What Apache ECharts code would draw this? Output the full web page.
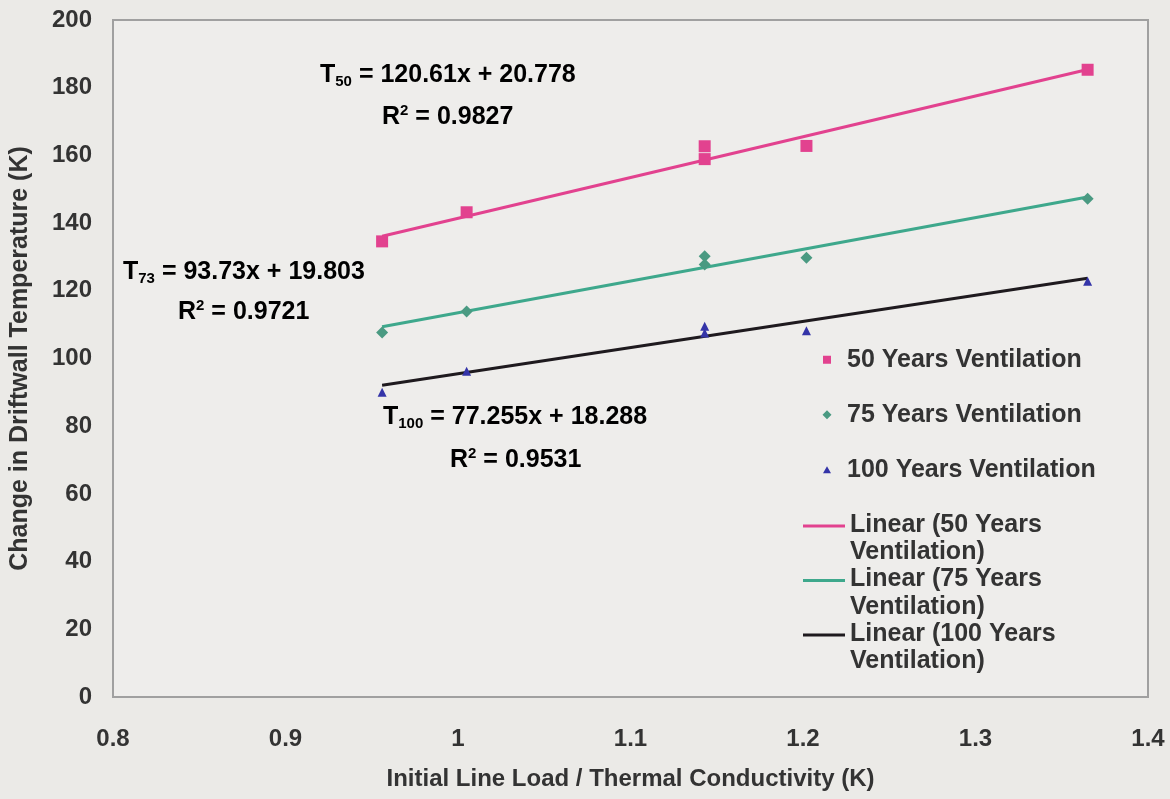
<!DOCTYPE html>
<html>
<head>
<meta charset="utf-8">
<script src="https://cdn.jsdelivr.net/npm/echarts@6/dist/echarts.min.js"></script>
<style>
html,body{margin:0;padding:0;background:#ebeae7;}
#c{width:1170px;height:799px;}
</style>
</head>
<body>
<div id="c"></div>
<script>
// ---- data ----
const xValues = [0.956, 1.005, 1.143, 1.143, 1.202, 1.365];
const years50 = [134.6, 143.2, 162.7, 158.9, 162.8, 185.3];
const years75 = [107.7, 113.9, 130.2, 127.8, 129.8, 147.2];
const years100 = [90.0, 96.2, 109.5, 107.5, 108.2, 122.8];
const trendX = [0.956, 1.365];
const trend50 = [136.1, 185.4];
const trend75 = [109.4, 147.7];
const trend100 = [92.1, 123.7];
const xTicks = [0.8, 0.9, 1.0, 1.1, 1.2, 1.3, 1.4];
const yTicks = [0, 20, 40, 60, 80, 100, 120, 140, 160, 180, 200];
const scatterNames = ['50 Years Ventilation', '75 Years Ventilation', '100 Years Ventilation'];
const lineNames = ['Linear (50 Years Ventilation)', 'Linear (75 Years Ventilation)', 'Linear (100 Years Ventilation)'];

const pink = '#e2428f', teal = '#3ea88c', dark = '#1e1a1e', blue = '#3434a8', tealMk = '#4a9a82';
const pair = (xs, ys) => xs.map((x, i) => [x, ys[i]]);

const chart = echarts.init(document.getElementById('c'));
// legend icons: visible glyph plus zero-area anchor points that fix the icon box
const pad = ' M0,5 L0.01,5 L0,5.01 Z M29.99,5 L30,5 L30,5.01 Z M15,0 L15.01,0 L15,0.01 Z M15,9.99 L15.01,10 L15,10 Z';
const squareIcon = 'path://M11,1 L19,1 L19,9 L11,9 Z' + pad;
const diamondIcon = 'path://M15,0.5 L19.5,5 L15,9.5 L10.5,5 Z' + pad;
const triangleIcon = 'path://M15,1.5 L19,8.5 L11,8.5 Z' + pad;
const lineIcon = 'path://M0,0 L42,0 L42,3 L0,3 Z M0,27.9 L0.01,27.9 L0.01,28 Z';
const FF = 'Liberation Sans, Arial, sans-serif';
const txt = {fontFamily: FF, fontWeight: 'bold', fontSize: 25, color: '#333', lineHeight: 27.5};

const rich = {
  b: {fontFamily: FF, fontWeight: 'bold', fontSize: 25, color: '#333', lineHeight: 28},
  sub: {fontFamily: FF, fontWeight: 'bold', fontSize: 15, color: '#333', lineHeight: 28, verticalAlign: 'bottom', padding: [9, 0, 0, 0]},
  sup: {fontFamily: FF, fontWeight: 'bold', fontSize: 15, color: '#333', lineHeight: 28, verticalAlign: 'top', padding: [0, 0, 9, 0]}
};
function eqText(x, y, str) {
  return {type: 'text', x: x, y: y, z: 10, style: {text: str, rich: rich, font: 'bold 25px Liberation Sans', verticalAlign: 'middle'}};
}

chart.setOption({
  backgroundColor: '#ebeae7',
  animation: false,
  grid: {left: 113, right: 22, top: 20, bottom: 102, show: true, backgroundColor: '#eeedeb', borderColor: '#a0a0a0', borderWidth: 2},
  xAxis: {
    type: 'value', min: xTicks[0], max: xTicks[xTicks.length - 1], interval: 0.1,
    axisLine: {show: false}, axisTick: {show: false}, splitLine: {show: false},
    axisLabel: {margin: 30, fontFamily: FF, fontWeight: 'bold', fontSize: 24, color: '#333',
      formatter: v => String(Math.round(v * 10) / 10)},
    name: 'Initial Line Load / Thermal Conductivity (K)', nameLocation: 'middle', nameGap: 70,
    nameTextStyle: {fontFamily: FF, fontWeight: 'bold', fontSize: 24, color: '#333'}
  },
  yAxis: {
    type: 'value', min: yTicks[0], max: yTicks[yTicks.length - 1], interval: 20,
    axisLine: {show: false}, axisTick: {show: false}, splitLine: {show: false},
    axisLabel: {margin: 21, fontFamily: FF, fontWeight: 'bold', fontSize: 24, color: '#333'},
    name: 'Change in Driftwall Temperature (K)', nameLocation: 'middle', nameGap: 80,
    nameTextStyle: {fontFamily: FF, fontWeight: 'bold', fontSize: 25, color: '#333'}
  },
  legend: [
    {data: [{name: scatterNames[0], icon: squareIcon}, {name: scatterNames[1], icon: diamondIcon}, {name: scatterNames[2], icon: triangleIcon}],
     orient: 'vertical', left: 812, top: 346, itemGap: 27.5, itemWidth: 30, itemHeight: 10, padding: 0,
     textStyle: txt},
    {data: lineNames.map(n => ({name: n, icon: lineIcon})), orient: 'vertical', left: 803, top: 511, itemGap: -0.5,
     itemWidth: 42, itemHeight: 28, padding: 0,
     textStyle: txt,
     formatter: n => n.replace(' Ventilation)', '\nVentilation)')}
  ],
  graphic: [
    {type: 'rect', shape: {x: 774, y: 339, width: 355, height: 358}, z: -1, silent: true,
     style: {fill: '#eeedeb', stroke: '#b0b0b0', lineWidth: 1.5}},
    eqText(320, 75, '{b|T}{sub|50}{b| = 120.61x + 20.778}'),
    eqText(382, 117, '{b|R}{sup|2}{b| = 0.9827}'),
    eqText(123, 272, '{b|T}{sub|73}{b| = 93.73x + 19.803}'),
    eqText(178, 312, '{b|R}{sup|2}{b| = 0.9721}'),
    eqText(383, 417, '{b|T}{sub|100}{b| = 77.255x + 18.288}'),
    eqText(450, 460, '{b|R}{sup|2}{b| = 0.9531}')
  ],
  series: [
    {name: lineNames[0], type: 'line', data: pair(trendX, trend50), symbol: 'none', lineStyle: {color: pink, width: 3}, itemStyle: {color: pink}, z: 2},
    {name: lineNames[1], type: 'line', data: pair(trendX, trend75), symbol: 'none', lineStyle: {color: teal, width: 3}, itemStyle: {color: teal}, z: 2},
    {name: lineNames[2], type: 'line', data: pair(trendX, trend100), symbol: 'none', lineStyle: {color: dark, width: 3}, itemStyle: {color: dark}, z: 2},
    {name: scatterNames[0], type: 'scatter', data: pair(xValues, years50), symbol: 'rect', symbolSize: 12, itemStyle: {color: pink, opacity: 1}, z: 3},
    {name: scatterNames[1], type: 'scatter', data: pair(xValues, years75), symbol: 'diamond', symbolSize: 12, itemStyle: {color: tealMk, opacity: 1}, z: 3},
    {name: scatterNames[2], type: 'scatter', data: pair(xValues, years100), symbol: 'triangle', symbolSize: 9, itemStyle: {color: blue, opacity: 1}, z: 3}
  ]
});
</script>
</body>
</html>
